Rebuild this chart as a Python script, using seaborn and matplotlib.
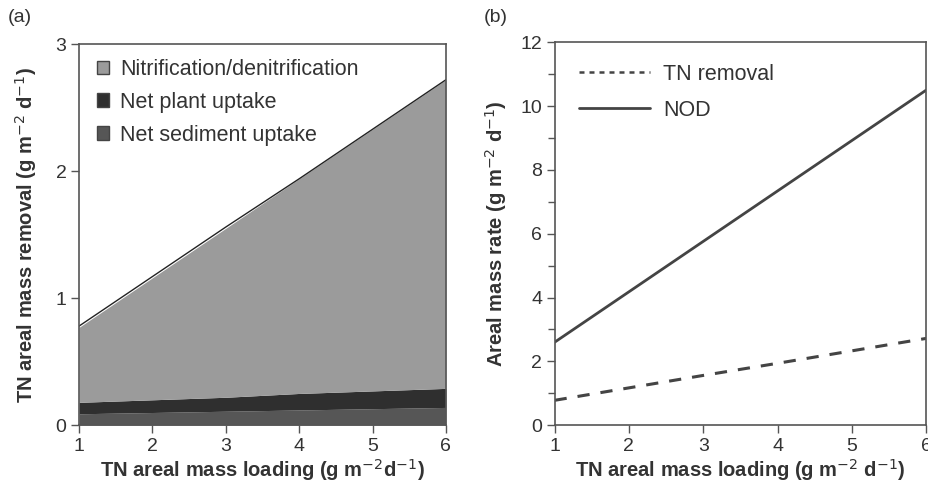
import numpy as np
import pandas as pd
import seaborn as sns
import matplotlib.pyplot as plt
from matplotlib.patches import Patch
from matplotlib.lines import Line2D

# data
loading = [1, 2, 3, 4, 5, 6]
sediment = [0.09, 0.10, 0.11, 0.12, 0.13, 0.14]
plant = [0.09, 0.10, 0.11, 0.13, 0.14, 0.15]
nitrif = [0.59, 0.96, 1.33, 1.69, 2.06, 2.43]
tn_removal = [0.78, 1.17, 1.56, 1.94, 2.33, 2.72]
nod = [2.6, 4.18, 5.76, 7.34, 8.92, 10.5]

sns.set_theme(style="ticks")
plt.rcParams['font.family'] = ['Liberation Sans', 'DejaVu Sans']
txt = '#333333'
spine = '#555555'
plt.rcParams.update({'text.color': txt, 'axes.labelcolor': txt,
                     'xtick.color': spine, 'ytick.color': spine,
                     'xtick.labelcolor': txt, 'ytick.labelcolor': txt,
                     'axes.edgecolor': spine})

fig = plt.figure(figsize=(9.29, 4.91), dpi=100)
ax1 = fig.add_axes([0.085, 0.134, 0.395, 0.776])
ax2 = fig.add_axes([0.597, 0.134, 0.400, 0.780])

df = pd.DataFrame({'x': loading, 'sed': sediment, 'plant': plant,
                   'nit': nitrif, 'tn': tn_removal, 'nod': nod})

# panel a: stacked areas
c_nit, c_plant, c_sed = '#9b9b9b', '#2f2f2f', '#565656'
ax1.stackplot(df['x'], df['sed'], df['plant'], df['nit'],
              colors=[c_sed, c_plant, c_nit], linewidth=0)
sns.lineplot(data=df, x='x', y='tn', ax=ax1, color='#222222', lw=1.0)
ax1.set_xlim(1, 6)
ax1.set_ylim(0, 3)
ax1.set_xticks(loading)
ax1.set_yticks([0, 1, 2, 3])
ax1.set_xlabel('TN areal mass loading (g m$^{-2}$d$^{-1}$)', fontsize=14.5,
               fontweight='bold', labelpad=2)
ax1.set_ylabel('TN areal mass removal (g m$^{-2}$ d$^{-1}$)', fontsize=14.5,
               fontweight='bold', labelpad=12)
handles = [Patch(facecolor=c_nit, edgecolor='#444444', label='Nitrification/denitrification'),
           Patch(facecolor=c_plant, edgecolor='#444444', label='Net plant uptake'),
           Patch(facecolor=c_sed, edgecolor='#444444', label='Net sediment uptake')]
ax1.legend(handles=handles, loc='upper left', frameon=False, fontsize=15.5,
           handlelength=0.6, handleheight=0.6, handletextpad=0.5,
           labelspacing=0.55, bbox_to_anchor=(-0.005, 1.012))

# panel b: lines
sns.lineplot(data=df, x='x', y='tn', ax=ax2, color='#444444', lw=2.2,
             linestyle=(0, (4, 3.6)))
sns.lineplot(data=df, x='x', y='nod', ax=ax2, color='#444444', lw=2.0)
ax2.set_xlim(1, 6)
ax2.set_ylim(0, 12)
ax2.set_xticks(loading)
ax2.set_yticks([0, 2, 4, 6, 8, 10, 12])
ax2.set_yticks([1, 3, 5, 7, 9, 11], minor=True)
ax2.tick_params(axis='y', which='minor', length=5, color=spine)
ax2.set_xlabel('TN areal mass loading (g m$^{-2}$ d$^{-1}$)', fontsize=14.5,
               fontweight='bold', labelpad=2)
ax2.set_ylabel('Areal mass rate (g m$^{-2}$ d$^{-1}$)', fontsize=14.5,
               fontweight='bold', labelpad=8)
lh = [Line2D([], [], color='#444444', lw=1.8, linestyle=(0, (2, 2)), label='TN removal'),
      Line2D([], [], color='#444444', lw=2.0, label='NOD')]
ax2.legend(handles=lh, loc='upper left', frameon=False, fontsize=15.5,
           handlelength=3.3, handletextpad=0.6, labelspacing=0.7,
           bbox_to_anchor=(0.013, 0.995))

for ax in (ax1, ax2):
    for s in ax.spines.values():
        s.set_visible(True)
        s.set_color(spine)
        s.set_linewidth(1.2)
    ax.tick_params(axis='both', which='major', labelsize=14, length=6,
                   width=1.0, pad=3)

fig.text(0.008, 0.955, '(a)', fontsize=14)
fig.text(0.521, 0.955, '(b)', fontsize=14)

fig.savefig('out.png', dpi=100)
